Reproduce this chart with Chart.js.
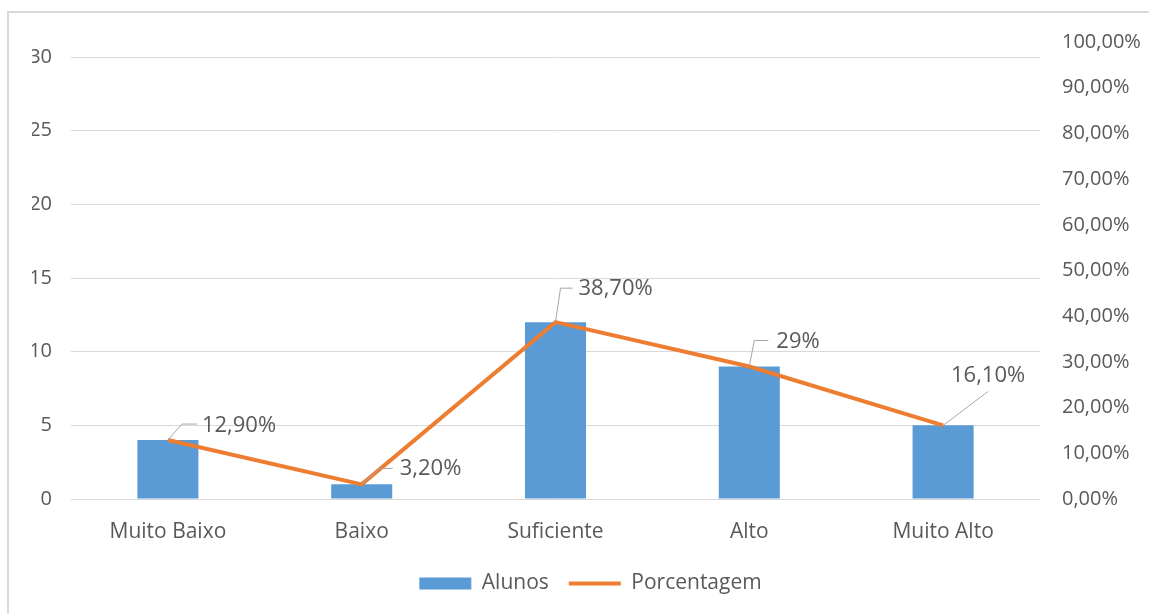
<!doctype html>
<html lang="pt">
  <head>
    <meta charset="utf-8">
    <title>Alunos por nível</title>
    <script src="https://cdn.jsdelivr.net/npm/chart.js"></script>
    <style>
      html, body {
        margin: 0;
        padding: 0;
        background: #fff;
        overflow: hidden;
      }
      .frame {
        position: absolute;
        left: 7px;
        top: 11px;
        width: 1160px;
        height: 620px;
        border: 2px solid #d9d9d9;
        box-sizing: border-box;
      }
      #wrap {
        position: absolute;
        left: 0;
        top: 0;
        width: 1149px;
        height: 614px;
      }
    </style>
  </head>
  <body>
    <div class="frame"></div>
    <div id="wrap"><canvas id="chart"></canvas></div>

    <script>
      const categorias = ['Muito Baixo', 'Baixo', 'Suficiente', 'Alto', 'Muito Alto'];
      const alunos = [4, 1, 12, 9, 5];
      const porcentagem = [12.9, 3.2, 38.7, 29, 16.1];
      const rotulos = ['12,90%', '3,20%', '38,70%', '29%', '16,10%'];

      const TEXTO = '#595959';
      const FONTE = "'Open Sans', 'Noto Sans', sans-serif";

      // posição dos rótulos relativa ao ponto: cotovelo (ex, ey), fim da linha (hx), texto (tx, ty, align)
      const guias = [
        { ex: 14, ey: -16, hx: 29, tx: 34, ty: -14, align: 'left' },
        { ex: 18, ey: -16, hx: 31, tx: 38, ty: -16, align: 'left' },
        { ex: 5, ey: -34, hx: 17, tx: 23, ty: -33, align: 'left' },
        { ex: 5, ey: -26, hx: 19, tx: 27, ty: -25, align: 'left' },
        { ex: 45, ey: -34, hx: 45, tx: 45, ty: -50, align: 'center' }
      ];

      const rotulosLinha = {
        id: 'rotulosLinha',
        afterDatasetsDraw(chart) {
          const ctx = chart.ctx;
          const meta = chart.getDatasetMeta(0);
          ctx.save();
          meta.data.forEach((pt, i) => {
            const g = guias[i];
            ctx.strokeStyle = '#a6a6a6';
            ctx.lineWidth = 1;
            ctx.beginPath();
            ctx.moveTo(pt.x, pt.y);
            ctx.lineTo(pt.x + g.ex, pt.y + g.ey);
            ctx.lineTo(pt.x + g.hx, pt.y + g.ey);
            ctx.stroke();
            ctx.fillStyle = TEXTO;
            ctx.font = '22px ' + FONTE;
            ctx.textAlign = g.align;
            ctx.textBaseline = 'middle';
            ctx.fillText(rotulos[i], pt.x + g.tx, pt.y + g.ty);
          });
          ctx.restore();
        }
      };

      Chart.defaults.font.family = FONTE;
      Chart.defaults.font.size = 21;
      Chart.defaults.color = TEXTO;

      new Chart(document.getElementById('chart'), {
        data: {
          labels: categorias,
          datasets: [
            {
              type: 'line',
              label: 'Porcentagem',
              data: porcentagem,
              yAxisID: 'y2',
              borderColor: '#ED7D31',
              backgroundColor: '#ED7D31',
              borderWidth: 4,
              pointRadius: 0,
              pointStyle: 'line',
              tension: 0,
              order: 0
            },
            {
              type: 'bar',
              label: 'Alunos',
              data: alunos,
              yAxisID: 'y',
              backgroundColor: '#5B9BD5',
              pointStyle: 'rect',
              categoryPercentage: 1,
              barPercentage: 0.315,
              order: 1
            }
          ]
        },
        options: {
          responsive: true,
          maintainAspectRatio: false,
          animation: false,
          layout: { padding: { top: 42, left: 32, right: 0, bottom: 10 } },
          plugins: {
            tooltip: { enabled: false },
            legend: {
              position: 'bottom',
              reverse: true,
              labels: {
                usePointStyle: true,
                pointStyleWidth: 52,
                boxHeight: 12,
                padding: 20,
                font: { size: 21 },
                color: TEXTO
              }
            }
          },
          scales: {
            x: {
              grid: { display: false, drawTicks: false },
              border: { display: false },
              ticks: { padding: 20 },
              afterFit(s) { s.height = 54; }
            },
            y: {
              position: 'left',
              min: 0,
              max: 31.02,
              grid: { color: '#d9d9d9', lineWidth: 1, drawTicks: false },
              border: { display: false },
              ticks: { stepSize: 5, includeBounds: false, padding: 19, font: { size: 20 } },
              afterFit(s) { s.width = 39; }
            },
            y2: {
              position: 'right',
              min: 0,
              max: 100,
              grid: { display: false, drawTicks: false },
              border: { display: false },
              ticks: {
                stepSize: 10,
                padding: 22,
                font: { size: 20 },
                callback: v => v.toFixed(2).replace('.', ',') + '%'
              },
              afterFit(s) { s.width = 109; }
            }
          }
        },
        plugins: [rotulosLinha]
      });
    </script>
  </body>
</html>
